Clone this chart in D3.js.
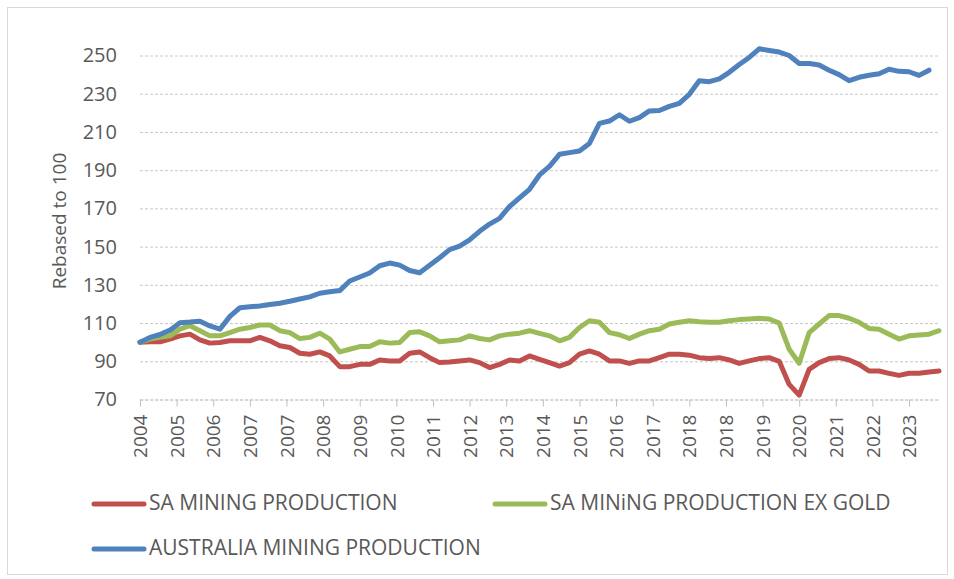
<!DOCTYPE html>
<meta charset="utf-8">
<script src="https://d3js.org/d3.v7.min.js"></script>
<style>
  body { margin: 0; background: #fff; }
  text { font-family: "Open Sans", "Noto Sans", sans-serif; fill: #595959; }
</style>
<div id="chart"></div>

<script>
    // quarterly readings (every 3 months from Jan 2004), rebased to 100
    var saMining = [100, 100.2, 100.2, 101.6, 103.3, 104.2, 101.2, 99.5, 99.8, 100.7,
        100.7, 100.7, 102.5, 100.7, 98.1, 97.2, 94.2, 93.7, 94.9, 92.8,
        87.2, 87.2, 88.4, 88.4, 90.7, 90.2, 90.2, 94.2, 94.9, 91.9,
        89.3, 89.6, 90.2, 90.7, 89.3, 86.7, 88.4, 90.7, 90.2, 92.8,
        91, 89.3, 87.5, 89.3, 93.7, 95.4, 93.7, 90.2, 90.2, 88.9,
        90.2, 90.2, 91.9, 93.7, 93.7, 93.2, 91.9, 91.4, 91.9, 90.7,
        88.9, 90.2, 91.4, 91.9, 90, 77.9, 72.3, 85.8, 89.3, 91.4,
        91.9, 90.7, 88.4, 84.9, 84.9, 83.7, 82.6, 83.7, 83.7, 84.4, 84.9];

    var saExGold = [100, 101.6, 102.5, 103.3, 106.8, 108.6, 106, 103.3, 103.3, 105,
        106.8, 107.7, 109, 109, 106, 105, 101.9, 102.5, 104.7, 101.6,
        94.9, 96.3, 97.7, 97.7, 100.2, 99.5, 99.8, 105, 105.4, 103.3,
        100.2, 100.7, 101.2, 103.3, 101.9, 101.2, 103.3, 104.2, 104.7, 106,
        104.6, 103.3, 100.7, 102.5, 107.7, 111.2, 110.4, 105, 103.9, 101.9,
        104.2, 106, 106.8, 109.5, 110.4, 111.2, 110.7, 110.4, 110.4, 111.2,
        111.8, 112.1, 112.5, 112.1, 110, 96.3, 89, 105, 109.5, 113.9,
        113.9, 112.5, 110.4, 107.2, 106.8, 104.2, 101.6, 103.3, 103.7, 104.2, 106];

    var australia = [100, 102.5, 104, 106.3, 110.2, 110.5, 111, 108.5, 106.8, 113.5,
        118, 118.5, 118.9, 119.7, 120.4, 121.4, 122.6, 123.7, 125.6, 126.4,
        127, 132, 134.1, 136.2, 140, 141.4, 140.3, 137.5, 136.3, 140.2,
        144.2, 148.4, 150.2, 153.5, 158, 161.8, 164.8, 171, 175.5, 180,
        187.5, 192, 198.3, 199.2, 200, 204, 214.5, 215.7, 219, 215.6,
        217.5, 221, 221.2, 223.4, 225, 229.7, 236.8, 236.3, 237.8, 241.2,
        245.3, 249, 253.5, 252.6, 251.8, 250, 245.8, 245.8, 245, 242.3,
        240, 236.8, 238.6, 239.7, 240.5, 242.8, 241.7, 241.5, 239.6, 242.3];

    var xLabels = ["2004", "2005", "2006", "2007", "2007", "2008", "2009", "2010", "2011", "2012",
        "2013", "2014", "2015", "2016", "2017", "2018", "2018", "2019", "2020", "2021",
        "2022", "2023"];

    var yTicks = [70, 90, 110, 130, 150, 170, 190, 210, 230, 250];

    var seriesNames = ["SA MINING PRODUCTION", "SA MINiNG PRODUCTION EX GOLD", "AUSTRALIA MINING PRODUCTION"];
    var seriesColors = ["#c0504d", "#9bbb59", "#4f81bd"];

    var monthsPerPoint = 3,
        monthsPerTick = 11;

    var W = 954, H = 579;
    var margin = {top: 36.4, right: 15, bottom: 179.5, left: 140},
        width = W - margin.left - margin.right,
        height = H - margin.top - margin.bottom;

    var root = d3.select("#chart")
      .append("svg")
        .attr("width", W)
        .attr("height", H);

    // chart border
    root.append("rect")
        .attr("x", 7.5).attr("y", 7.5)
        .attr("width", 940).attr("height", 567)
        .attr("fill", "none")
        .attr("stroke", "#d9d9d9");

    var svg = root.append("g")
        .attr("transform", "translate(" + margin.left + "," + margin.top + ")");

    var x = d3.scaleLinear()
        .domain([0, 240])
        .range([0, width]);

    var y = d3.scaleLinear()
        .domain([70, 260])
        .range([height, 0]);

    // gridlines + y labels
    var yAxis = svg.append("g")
        .call(d3.axisLeft(y).tickValues(yTicks).tickSize(-width).tickPadding(23));
    yAxis.select(".domain").remove();
    yAxis.selectAll("line")
        .attr("stroke", "#c8c8c8")
        .attr("stroke-dasharray", "3,2");
    yAxis.selectAll("text")
        .attr("fill", "#595959")
        .style("font-size", "20px");

    // x axis
    var tickVals = xLabels.map(function(d, i) { return i * monthsPerTick; });
    var xAxis = svg.append("g")
        .attr("transform", "translate(0," + height + ")")
        .call(d3.axisBottom(x).tickValues(tickVals)
            .tickFormat(function(d, i) { return xLabels[i]; })
            .tickSize(7).tickSizeOuter(0));
    xAxis.select(".domain")
        .attr("stroke", "#c8c8c8")
        .attr("stroke-dasharray", "3,2");
    xAxis.selectAll("line").attr("stroke", "#bfbfbf");
    xAxis.selectAll("text")
        .attr("fill", "#595959")
        .style("font-size", "19px")
        .style("text-anchor", "end")
        .attr("dy", "0.35em")
        .attr("transform", "translate(0,15)rotate(-90)")
        .attr("x", 0).attr("y", 0);

    // y title
    root.append("text")
        .attr("transform", "translate(66,221)rotate(-90)")
        .attr("text-anchor", "middle")
        .style("font-size", "19px")
        .text("Rebased to 100");

    // lines
    var line = d3.line()
        .x(function(d, i) { return x(i * monthsPerPoint); })
        .y(function(d) { return y(d); });

    [saMining, saExGold, australia].forEach(function(s, i) {
        svg.append("path")
            .datum(s)
            .attr("fill", "none")
            .attr("stroke", seriesColors[i])
            .attr("stroke-width", 5)
            .attr("stroke-linejoin", "round")
            .attr("stroke-linecap", "round")
            .attr("d", line);
    });

    // legend
    var legendPos = [[92, 504], [493, 504], [92, 549]];
    seriesNames.forEach(function(name, i) {
        var g = root.append("g")
            .attr("transform", "translate(" + legendPos[i][0] + "," + legendPos[i][1] + ")");
        g.append("line")
            .attr("x1", 2).attr("x2", 52)
            .attr("stroke", seriesColors[i])
            .attr("stroke-width", 5)
            .attr("stroke-linecap", "round");
        g.append("text")
            .attr("x", 57)
            .attr("dy", "0.28em")
            .style("font-size", "21px")
            .text(name);
    });
</script>
